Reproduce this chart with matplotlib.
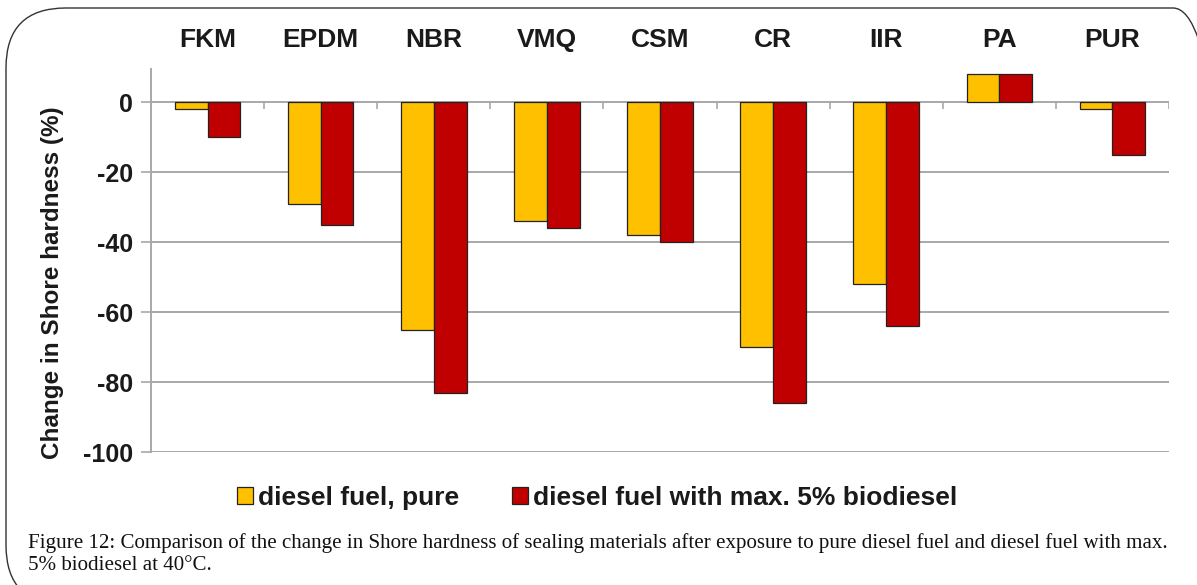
import numpy as np
import matplotlib
matplotlib.use("Agg")
import matplotlib.pyplot as plt
from matplotlib.patches import Rectangle, FancyBboxPatch

categories = ["FKM", "EPDM", "NBR", "VMQ", "CSM", "CR", "IIR", "PA", "PUR"]
pure = [-2, -29, -65, -34, -38, -70, -52, 8, -2]
bio5 = [-10, -35, -83, -36, -40, -86, -64, 8, -15]
series_names = ["diesel fuel, pure", "diesel fuel with max. 5% biodiesel"]
yticks = [0, -20, -40, -60, -80, -100]
caption = ("Figure 12: Comparison of the change in Shore hardness of sealing materials after exposure to pure diesel fuel and diesel fuel with max.\n"
           "5% biodiesel at 40°C.")

YELLOW = "#FFC000"
RED = "#C00000"
GRID = "#a8a8a8"
TXT = "#1a1a1a"

plt.rcParams['font.family'] = ['Liberation Sans', 'DejaVu Sans']

W, H = 1197, 585
fig = plt.figure(figsize=(W / 100, H / 100), dpi=100)

# rounded border
border = FancyBboxPatch((6 / W, -20 / H), (W + 30) / W, (H + 20 - 8) / H,
                        boxstyle="round,pad=0,rounding_size=0.05",
                        transform=fig.transFigure, facecolor="none",
                        edgecolor="#333333", linewidth=1.0, mutation_aspect=W / H)
fig.patches.append(border)

ax = fig.add_axes([151 / W, 1 - 452 / H, (1169 - 151) / W, (452 - 69) / H])

x = np.arange(len(categories))
bw = 0.29
ax.bar(x - bw / 2, pure, width=bw, color=YELLOW, edgecolor="#222222", linewidth=0.9, zorder=3)
ax.bar(x + bw / 2, bio5, width=bw, color=RED, edgecolor="#222222", linewidth=0.9, zorder=3)

ax.set_xlim(-0.5, len(categories) - 0.5)
ax.set_ylim(-100, 9.5)
ax.set_yticks(yticks)
ax.set_yticklabels([str(v) for v in yticks], fontsize=18, fontweight="bold", color=TXT)
ax.yaxis.grid(True, color=GRID, linewidth=1.4, zorder=0)
ax.tick_params(axis='y', length=7, width=1.2, color=GRID, pad=6)

ax.set_xticks(x)
ax.set_xticklabels(categories, fontsize=19, fontweight="bold", color=TXT)
ax.xaxis.tick_top()
ax.tick_params(axis='x', length=0, pad=12)

# small tick marks at group boundaries on the zero line
ax.vlines(np.arange(-0.5, len(categories)), 0, -1.8, color=GRID, linewidth=1.2, zorder=1)

for s in ["top", "right", "bottom"]:
    ax.spines[s].set_visible(False)
ax.spines["left"].set_color(GRID)
ax.spines["left"].set_linewidth(1.4)

fig.text(53 / W, 1 - 283 / H, "Change in Shore hardness (%)", rotation=90, fontsize=17.5,
         fontweight="bold", color=TXT, ha="center", va="center")

handles = [Rectangle((0, 0), 1, 1, facecolor=YELLOW, edgecolor="#222222", linewidth=0.9),
           Rectangle((0, 0), 1, 1, facecolor=RED, edgecolor="#222222", linewidth=0.9)]
fig.legend(handles, series_names, loc="center", bbox_to_anchor=(597 / W, 1 - 498 / H),
           ncol=2, frameon=False, prop={"size": 19, "weight": "bold"},
           handlelength=0.6, handleheight=0.6, handletextpad=0.2, columnspacing=2.0,
           labelcolor=TXT)

fig.text(28 / W, 1 - 554 / H, caption, fontsize=15.1, family=["Liberation Serif", "DejaVu Serif"],
         color="#111111", ha="left", va="center", linespacing=1.2)

fig.savefig("out.png", dpi=100)
